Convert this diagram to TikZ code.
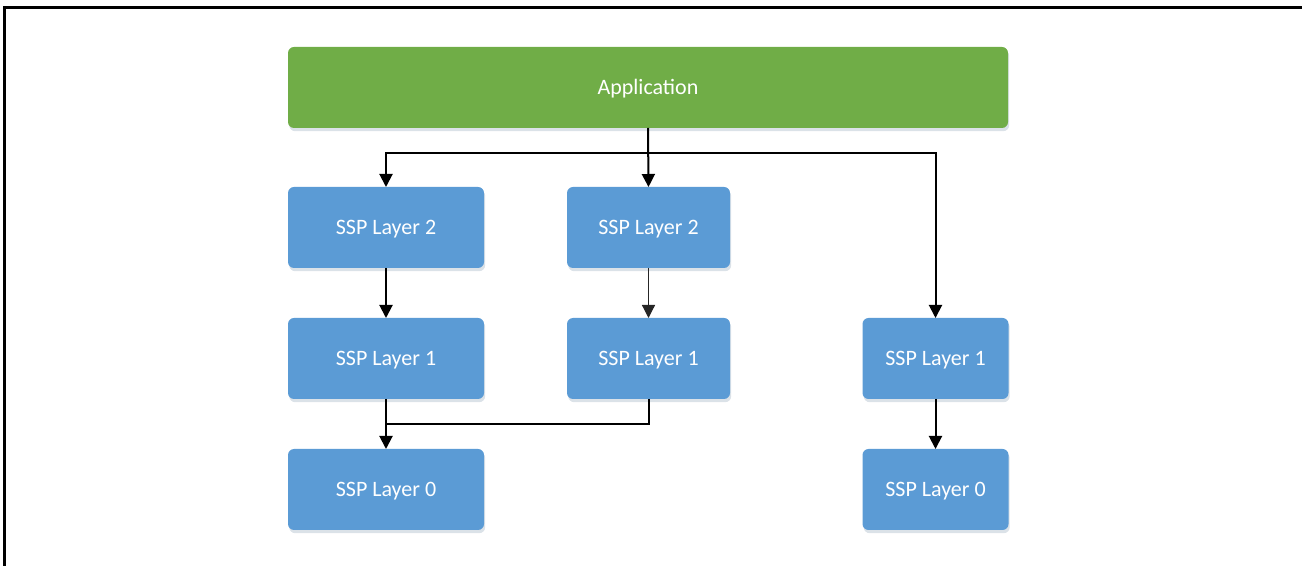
\documentclass[tikz,border=0pt]{standalone}
\usepackage{fontspec}
\setmainfont{Carlito}
\usetikzlibrary{arrows.meta,shadows}
\definecolor{appgreen}{HTML}{70AD47}
\definecolor{sspblue}{HTML}{5B9BD5}
\begin{document}
\begin{tikzpicture}[x=0.5pt,y=-0.5pt,
	layerbox/.style={fill=sspblue,text=white,font=\fontsize{11}{13}\selectfont,text height=8pt,text depth=1pt,
		rounded corners=3pt,minimum height=40.5pt,inner sep=0pt,outer sep=0pt,
		drop shadow={shadow xshift=0.6pt,shadow yshift=-1.6pt,fill=sspblue!40!gray,opacity=.25}},
	conn/.style={line width=1pt,-{Triangle[width=6.5pt,length=6.5pt]}}]
	\useasboundingbox (0,0) rectangle (1302,566);
	\draw[line width=1.5pt] (4.5,566) -- (4.5,7.5) -- (1302,7.5);
	\node[layerbox,fill=appgreen,minimum width=360pt] (app) at (648,87.5) {Application};
	\node[layerbox,minimum width=98pt]   (l2a) at (386,227.5) {SSP Layer 2};
	\node[layerbox,minimum width=81.5pt] (l2b) at (648.5,227.5) {SSP Layer 2};
	\node[layerbox,minimum width=98pt]   (l1a) at (386,358.5) {SSP Layer 1};
	\node[layerbox,minimum width=81.5pt] (l1b) at (648.5,358.5) {SSP Layer 1};
	\node[layerbox,minimum width=73pt]   (l1c) at (935.5,358.5) {SSP Layer 1};
	\node[layerbox,minimum width=98pt]   (l0a) at (386,489.5) {SSP Layer 0};
	\node[layerbox,minimum width=73pt]   (l0c) at (935.5,489.5) {SSP Layer 0};
	% fork below the application, merge above layer 0
	\coordinate (fork) at (648,153);
	\coordinate (merge) at (386,424);
	\draw[conn] (app.south) -- (l2b.north);
	\draw[conn] (fork) -| (l2a.north);
	\draw[conn] (fork) -| (l1c.north);
	\draw[conn] (l2a) -- (l1a);
	\draw[conn,line width=0.6pt,black!85] (l2b) -- (l1b);
	\draw[conn] (l1a) -- (l0a);
	\draw[line width=1pt] (l1b.south) |- (merge);
	\draw[conn] (l1c) -- (l0c);
\end{tikzpicture}
\end{document}
